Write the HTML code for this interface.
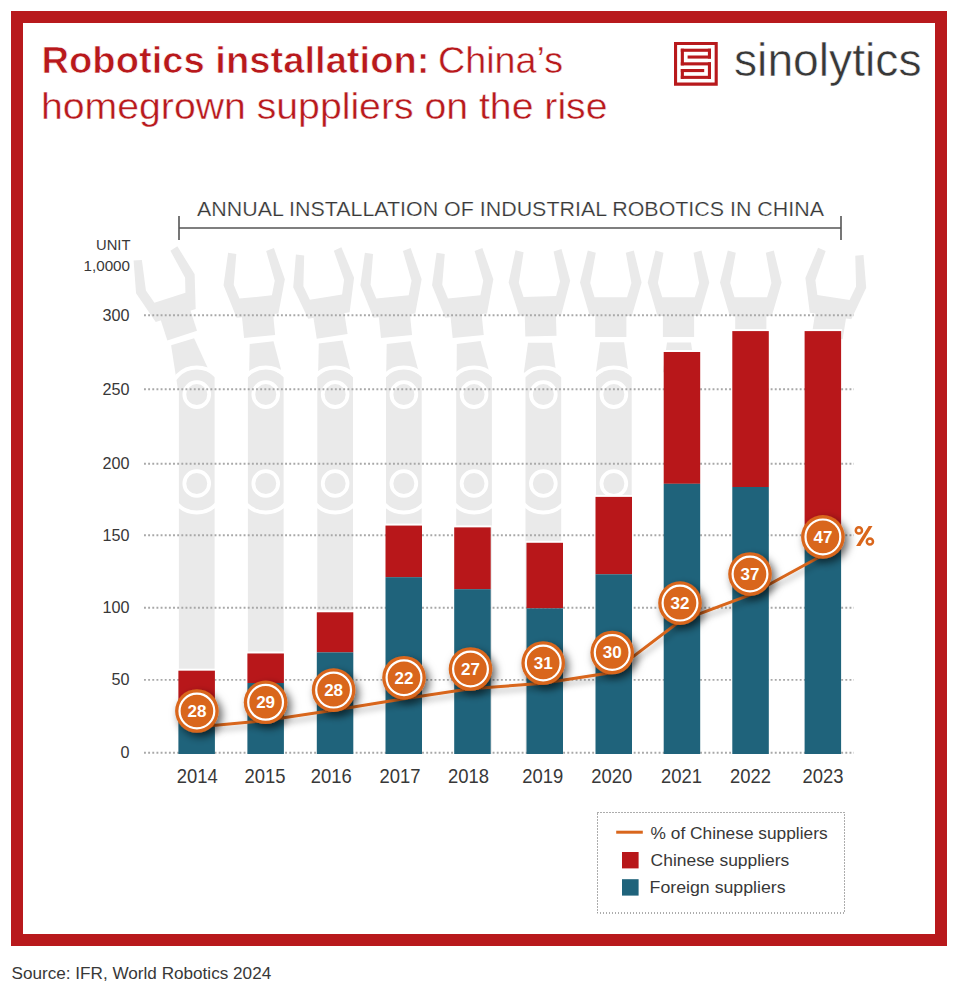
<!DOCTYPE html>
<html><head><meta charset="utf-8"><title>Robotics installation</title>
<style>
html,body{margin:0;padding:0;background:#fff;}
body{width:961px;height:998px;overflow:hidden;}
svg{display:block;font-family:"Liberation Sans",sans-serif;}
</style></head><body>
<svg width="961" height="998" viewBox="0 0 961 998">
<defs><filter id="sh" x="-50%" y="-50%" width="200%" height="200%"><feDropShadow dx="3.5" dy="4" stdDeviation="4" flood-color="#000" flood-opacity="0.6"/></filter><filter id="shl" x="-10%" y="-50%" width="120%" height="200%"><feDropShadow dx="2" dy="4" stdDeviation="3" flood-color="#000" flood-opacity="0.3"/></filter></defs>
<rect x="17" y="17" width="924" height="923" fill="none" stroke="#B8191C" stroke-width="12"/>
<text x="41.5" y="72.5" font-size="37" font-weight="bold" fill="#B8191C" stroke="#fff" stroke-width="0.7" textLength="388" lengthAdjust="spacingAndGlyphs">Robotics installation:</text>
<text x="438" y="72.5" font-size="37" fill="#B8191C" stroke="#fff" stroke-width="0.4" textLength="125" lengthAdjust="spacingAndGlyphs">China’s</text>
<text x="41" y="118.75" font-size="37" fill="#B8191C" stroke="#fff" stroke-width="0.4" textLength="566.5" lengthAdjust="spacingAndGlyphs">homegrown suppliers on the rise</text>
<g fill="#B8191C"><path fill-rule="evenodd" d="M674,42 H717.75 V85.7 H674 Z M677.1,45.1 V82.6 H714.65 V45.1 Z"/><rect x="680.8" y="48.7" width="30.2" height="3.1"/><rect x="707.9" y="48.7" width="3.1" height="9.9"/><rect x="687.6" y="55.5" width="23.4" height="3.1"/><rect x="680.8" y="48.7" width="3.1" height="16.7"/><rect x="680.8" y="62.3" width="30.2" height="3.1"/><rect x="707.9" y="62.3" width="3.1" height="16.6"/><rect x="680.8" y="69" width="23.4" height="3.1"/><rect x="680.8" y="69" width="3.1" height="9.9"/><rect x="680.8" y="75.8" width="30.2" height="3.1"/></g>
<text x="734" y="76.3" font-size="47" fill="#383838" stroke="#fff" stroke-width="0.5" textLength="187.5" lengthAdjust="spacingAndGlyphs">sinolytics</text>
<text x="197" y="215.8" font-size="20" fill="#383838" stroke="#fff" stroke-width="0.2" textLength="627" lengthAdjust="spacingAndGlyphs">ANNUAL INSTALLATION OF INDUSTRIAL ROBOTICS IN CHINA</text>
<path d="M179,228 H841 M179,216 V240 M841,216 V240" stroke="#555" stroke-width="1.6" fill="none"/>
<text x="96" y="250.4" font-size="15.3" fill="#383838" textLength="34.5" lengthAdjust="spacingAndGlyphs">UNIT</text>
<text x="83.5" y="270.8" font-size="15.3" fill="#383838" textLength="46.5" lengthAdjust="spacingAndGlyphs">1,0000</text>
<g fill="#EAEAEA"><g transform="translate(165.35,283.75) rotate(-18)"><polygon points="-23.00,-32.00 -15.00,-29.80 -20.60,0.50 -16.30,14.80 16.30,14.80 20.60,0.50 15.00,-29.80 23.00,-32.00 30.80,0.00 21.00,33.50 -21.00,33.50 -30.80,0.00"/><rect x="-15.6" y="33" width="31.2" height="21.5"/></g><g transform="translate(182.6,341.7) rotate(-16.7)"><polygon points="-12,0 12,0 18.30,45 -18.30,45"/></g><path d="M178.90,754.0 L178.90,377.10 A25,25 0 0 1 214.60,377.10 L214.60,754.0 Z"/><path d="M169.75,394.6 A27,27 0 0 1 223.75,394.6" fill="none" stroke="#fff" stroke-width="4"/><path d="M169.75,485.5 A27,27 0 0 0 223.75,485.5" fill="none" stroke="#fff" stroke-width="4"/><circle cx="196.75" cy="394.6" r="12.4" fill="none" stroke="#fff" stroke-width="3.8"/><circle cx="196.75" cy="483.5" r="12.4" fill="none" stroke="#fff" stroke-width="3.8"/><g transform="translate(254.2,282.25) rotate(-5.7)"><polygon points="-23.00,-32.00 -15.00,-29.80 -20.60,0.50 -16.30,14.80 16.30,14.80 20.60,0.50 15.00,-29.80 23.00,-32.00 30.80,0.00 21.00,33.50 -21.00,33.50 -30.80,0.00"/><rect x="-15.6" y="33" width="31.2" height="21.5"/></g><g transform="translate(261.6,342.6) rotate(-6.9)"><polygon points="-12,0 12,0 16.20,30 -16.20,30"/></g><path d="M247.90,754.0 L247.90,377.10 A25,25 0 0 1 283.60,377.10 L283.60,754.0 Z"/><path d="M238.75,394.6 A27,27 0 0 1 292.75,394.6" fill="none" stroke="#fff" stroke-width="4"/><path d="M238.75,485.5 A27,27 0 0 0 292.75,485.5" fill="none" stroke="#fff" stroke-width="4"/><circle cx="265.75" cy="394.6" r="12.4" fill="none" stroke="#fff" stroke-width="3.8"/><circle cx="265.75" cy="483.5" r="12.4" fill="none" stroke="#fff" stroke-width="3.8"/><g transform="translate(323.65,282.5) rotate(-9)"><polygon points="-23.00,-32.00 -15.00,-29.80 -20.60,0.50 -16.30,14.80 16.30,14.80 20.60,0.50 15.00,-29.80 23.00,-32.00 30.80,0.00 21.00,33.50 -21.00,33.50 -30.80,0.00"/><rect x="-15.6" y="33" width="31.2" height="21.5"/></g><g transform="translate(330.7,342) rotate(-6.7)"><polygon points="-12,0 12,0 16.20,30 -16.20,30"/></g><path d="M317.30,754.0 L317.30,377.10 A25,25 0 0 1 353.00,377.10 L353.00,754.0 Z"/><path d="M308.15,394.6 A27,27 0 0 1 362.15,394.6" fill="none" stroke="#fff" stroke-width="4"/><path d="M308.15,485.5 A27,27 0 0 0 362.15,485.5" fill="none" stroke="#fff" stroke-width="4"/><circle cx="335.15" cy="394.6" r="12.4" fill="none" stroke="#fff" stroke-width="3.8"/><circle cx="335.15" cy="483.5" r="12.4" fill="none" stroke="#fff" stroke-width="3.8"/><g transform="translate(391,282.25) rotate(-5.8)"><polygon points="-23.00,-32.00 -15.00,-29.80 -20.60,0.50 -16.30,14.80 16.30,14.80 20.60,0.50 15.00,-29.80 23.00,-32.00 30.80,0.00 21.00,33.50 -21.00,33.50 -30.80,0.00"/><rect x="-15.6" y="33" width="31.2" height="21.5"/></g><g transform="translate(398.6,342.6) rotate(-7)"><polygon points="-12,0 12,0 16.20,30 -16.20,30"/></g><path d="M386.00,754.0 L386.00,377.10 A25,25 0 0 1 421.70,377.10 L421.70,754.0 Z"/><path d="M376.85,394.6 A27,27 0 0 1 430.85,394.6" fill="none" stroke="#fff" stroke-width="4"/><path d="M376.85,485.5 A27,27 0 0 0 430.85,485.5" fill="none" stroke="#fff" stroke-width="4"/><circle cx="403.85" cy="394.6" r="12.4" fill="none" stroke="#fff" stroke-width="3.8"/><circle cx="403.85" cy="483.5" r="12.4" fill="none" stroke="#fff" stroke-width="3.8"/><g transform="translate(462.7,282.25) rotate(-5.8)"><polygon points="-23.00,-32.00 -15.00,-29.80 -20.60,0.50 -16.30,14.80 16.30,14.80 20.60,0.50 15.00,-29.80 23.00,-32.00 30.80,0.00 21.00,33.50 -21.00,33.50 -30.80,0.00"/><rect x="-15.6" y="33" width="31.2" height="21.5"/></g><g transform="translate(468.7,342.5) rotate(-7.6)"><polygon points="-12,0 12,0 16.20,30 -16.20,30"/></g><path d="M456.20,754.0 L456.20,377.10 A25,25 0 0 1 491.90,377.10 L491.90,754.0 Z"/><path d="M447.05,394.6 A27,27 0 0 1 501.05,394.6" fill="none" stroke="#fff" stroke-width="4"/><path d="M447.05,485.5 A27,27 0 0 0 501.05,485.5" fill="none" stroke="#fff" stroke-width="4"/><circle cx="474.05" cy="394.6" r="12.4" fill="none" stroke="#fff" stroke-width="3.8"/><circle cx="474.05" cy="483.5" r="12.4" fill="none" stroke="#fff" stroke-width="3.8"/><g transform="translate(539.4,281.65) rotate(-1.6)"><polygon points="-23.00,-32.00 -15.00,-29.80 -20.60,0.50 -16.30,14.80 16.30,14.80 20.60,0.50 15.00,-29.80 23.00,-32.00 30.80,0.00 21.00,33.50 -21.00,33.50 -30.80,0.00"/><rect x="-15.6" y="33" width="31.2" height="21.5"/></g><g transform="translate(540,342.7) rotate(0)"><polygon points="-12,0 12,0 16.20,30 -16.20,30"/></g><path d="M525.50,754.0 L525.50,377.10 A25,25 0 0 1 561.20,377.10 L561.20,754.0 Z"/><path d="M516.35,394.6 A27,27 0 0 1 570.35,394.6" fill="none" stroke="#fff" stroke-width="4"/><path d="M516.35,485.5 A27,27 0 0 0 570.35,485.5" fill="none" stroke="#fff" stroke-width="4"/><circle cx="543.35" cy="394.6" r="12.4" fill="none" stroke="#fff" stroke-width="3.8"/><circle cx="543.35" cy="483.5" r="12.4" fill="none" stroke="#fff" stroke-width="3.8"/><g transform="translate(610.8,282.5) rotate(0)"><polygon points="-23.00,-32.00 -15.00,-29.80 -20.60,0.50 -16.30,14.80 16.30,14.80 20.60,0.50 15.00,-29.80 23.00,-32.00 30.80,0.00 21.00,33.50 -21.00,33.50 -30.80,0.00"/><rect x="-15.6" y="33" width="31.2" height="21.5"/></g><g transform="translate(612.1,342.3) rotate(0)"><polygon points="-12,0 12,0 16.20,30 -16.20,30"/></g><path d="M596.00,754.0 L596.00,377.10 A25,25 0 0 1 631.70,377.10 L631.70,754.0 Z"/><path d="M586.85,394.6 A27,27 0 0 1 640.85,394.6" fill="none" stroke="#fff" stroke-width="4"/><path d="M586.85,485.5 A27,27 0 0 0 640.85,485.5" fill="none" stroke="#fff" stroke-width="4"/><circle cx="613.85" cy="394.6" r="12.4" fill="none" stroke="#fff" stroke-width="3.8"/><circle cx="613.85" cy="483.5" r="12.4" fill="none" stroke="#fff" stroke-width="3.8"/><g transform="translate(678.5,282.5) rotate(0)"><polygon points="-23.00,-32.00 -15.00,-29.80 -20.60,0.50 -16.30,14.80 16.30,14.80 20.60,0.50 15.00,-29.80 23.00,-32.00 30.80,0.00 21.00,33.50 -21.00,33.50 -30.80,0.00"/><rect x="-15.6" y="33" width="31.2" height="21.5"/></g><g transform="translate(679,342.5) rotate(0)"><polygon points="-12,0 12,0 16.20,30 -16.20,30"/></g><path d="M664.20,754.0 L664.20,377.10 A25,25 0 0 1 699.90,377.10 L699.90,754.0 Z"/><path d="M655.05,394.6 A27,27 0 0 1 709.05,394.6" fill="none" stroke="#fff" stroke-width="4"/><path d="M655.05,485.5 A27,27 0 0 0 709.05,485.5" fill="none" stroke="#fff" stroke-width="4"/><circle cx="682.05" cy="394.6" r="12.4" fill="none" stroke="#fff" stroke-width="3.8"/><circle cx="682.05" cy="483.5" r="12.4" fill="none" stroke="#fff" stroke-width="3.8"/><g transform="translate(750.8,282.5) rotate(0)"><polygon points="-23.00,-32.00 -15.00,-29.80 -20.60,0.50 -16.30,14.80 16.30,14.80 20.60,0.50 15.00,-29.80 23.00,-32.00 30.80,0.00 21.00,33.50 -21.00,33.50 -30.80,0.00"/><rect x="-15.6" y="33" width="31.2" height="21.5"/></g><path d="M732.80,754.0 L732.80,377.10 A25,25 0 0 1 768.50,377.10 L768.50,754.0 Z"/><path d="M723.65,394.6 A27,27 0 0 1 777.65,394.6" fill="none" stroke="#fff" stroke-width="4"/><path d="M723.65,485.5 A27,27 0 0 0 777.65,485.5" fill="none" stroke="#fff" stroke-width="4"/><circle cx="750.65" cy="394.6" r="12.4" fill="none" stroke="#fff" stroke-width="3.8"/><circle cx="750.65" cy="483.5" r="12.4" fill="none" stroke="#fff" stroke-width="3.8"/><g transform="translate(835.8,282.9) rotate(9)"><polygon points="-23.00,-32.00 -15.00,-29.80 -20.60,0.50 -16.30,14.80 16.30,14.80 20.60,0.50 15.00,-29.80 23.00,-32.00 30.80,0.00 21.00,33.50 -21.00,33.50 -30.80,0.00"/><rect x="-15.6" y="33" width="31.2" height="21.5"/></g><path d="M805.10,754.0 L805.10,377.10 A25,25 0 0 1 840.80,377.10 L840.80,754.0 Z"/><path d="M795.95,394.6 A27,27 0 0 1 849.95,394.6" fill="none" stroke="#fff" stroke-width="4"/><path d="M795.95,485.5 A27,27 0 0 0 849.95,485.5" fill="none" stroke="#fff" stroke-width="4"/><circle cx="822.95" cy="394.6" r="12.4" fill="none" stroke="#fff" stroke-width="3.8"/><circle cx="822.95" cy="483.5" r="12.4" fill="none" stroke="#fff" stroke-width="3.8"/></g>
<line x1="144" y1="752.8" x2="854" y2="752.8" stroke="#A8A8A8" stroke-width="1.9" stroke-dasharray="1.9 2.25"/>
<text x="129.5" y="758.1" font-size="16.2" fill="#383838" text-anchor="end">0</text>
<line x1="144" y1="679.9" x2="854" y2="679.9" stroke="#A8A8A8" stroke-width="1.9" stroke-dasharray="1.9 2.25"/>
<text x="129.5" y="685.2" font-size="16.2" fill="#383838" text-anchor="end">50</text>
<line x1="144" y1="607.8" x2="854" y2="607.8" stroke="#A8A8A8" stroke-width="1.9" stroke-dasharray="1.9 2.25"/>
<text x="129.5" y="613.1" font-size="16.2" fill="#383838" text-anchor="end">100</text>
<line x1="144" y1="535.2" x2="854" y2="535.2" stroke="#A8A8A8" stroke-width="1.9" stroke-dasharray="1.9 2.25"/>
<text x="129.5" y="540.5" font-size="16.2" fill="#383838" text-anchor="end">150</text>
<line x1="144" y1="463.8" x2="854" y2="463.8" stroke="#A8A8A8" stroke-width="1.9" stroke-dasharray="1.9 2.25"/>
<text x="129.5" y="469.1" font-size="16.2" fill="#383838" text-anchor="end">200</text>
<line x1="144" y1="389.3" x2="854" y2="389.3" stroke="#A8A8A8" stroke-width="1.9" stroke-dasharray="1.9 2.25"/>
<text x="129.5" y="394.6" font-size="16.2" fill="#383838" text-anchor="end">250</text>
<line x1="144" y1="315.3" x2="854" y2="315.3" stroke="#A8A8A8" stroke-width="1.9" stroke-dasharray="1.9 2.25"/>
<text x="129.5" y="320.6" font-size="16.2" fill="#383838" text-anchor="end">300</text>
<rect x="177.4" y="668.7" width="38.5" height="2" fill="#fff"/>
<rect x="178.4" y="670.7" width="36.5" height="41.299999999999955" fill="#B8171A"/>
<rect x="178.4" y="712" width="36.5" height="42.0" fill="#1F637B"/>
<text x="176.80" y="782.8" font-size="19.8" fill="#383838" textLength="41" lengthAdjust="spacingAndGlyphs">2014</text>
<rect x="246.4" y="651.5" width="38.5" height="2" fill="#fff"/>
<rect x="247.4" y="653.5" width="36.5" height="29.5" fill="#B8171A"/>
<rect x="247.4" y="683" width="36.5" height="71.0" fill="#1F637B"/>
<text x="244.60" y="782.8" font-size="19.8" fill="#383838" textLength="41" lengthAdjust="spacingAndGlyphs">2015</text>
<rect x="315.8" y="610.3" width="38.5" height="2" fill="#fff"/>
<rect x="316.8" y="612.3" width="36.5" height="40.10000000000002" fill="#B8171A"/>
<rect x="316.8" y="652.4" width="36.5" height="101.60000000000002" fill="#1F637B"/>
<text x="310.80" y="782.8" font-size="19.8" fill="#383838" textLength="41" lengthAdjust="spacingAndGlyphs">2016</text>
<rect x="384.5" y="523.6" width="38.5" height="2" fill="#fff"/>
<rect x="385.5" y="525.6" width="36.5" height="51.60000000000002" fill="#B8171A"/>
<rect x="385.5" y="577.2" width="36.5" height="176.79999999999995" fill="#1F637B"/>
<text x="379.40" y="782.8" font-size="19.8" fill="#383838" textLength="41" lengthAdjust="spacingAndGlyphs">2017</text>
<rect x="453.2" y="525.4" width="38.5" height="2" fill="#fff"/>
<rect x="454.2" y="527.4" width="36.5" height="61.80000000000007" fill="#B8171A"/>
<rect x="454.2" y="589.2" width="36.5" height="164.79999999999995" fill="#1F637B"/>
<text x="447.90" y="782.8" font-size="19.8" fill="#383838" textLength="41" lengthAdjust="spacingAndGlyphs">2018</text>
<rect x="525.5" y="540.8" width="38.5" height="2" fill="#fff"/>
<rect x="526.5" y="542.8" width="36.5" height="65.60000000000002" fill="#B8171A"/>
<rect x="526.5" y="608.4" width="36.5" height="145.60000000000002" fill="#1F637B"/>
<text x="522.20" y="782.8" font-size="19.8" fill="#383838" textLength="41" lengthAdjust="spacingAndGlyphs">2019</text>
<rect x="594.5" y="494.9" width="38.5" height="2" fill="#fff"/>
<rect x="595.5" y="496.9" width="36.5" height="77.39999999999998" fill="#B8171A"/>
<rect x="595.5" y="574.3" width="36.5" height="179.70000000000005" fill="#1F637B"/>
<text x="591.30" y="782.8" font-size="19.8" fill="#383838" textLength="41" lengthAdjust="spacingAndGlyphs">2020</text>
<rect x="662.7" y="350.0" width="38.5" height="2" fill="#fff"/>
<rect x="663.7" y="352.0" width="36.5" height="131.8" fill="#B8171A"/>
<rect x="663.7" y="483.8" width="36.5" height="270.2" fill="#1F637B"/>
<text x="661.00" y="782.8" font-size="19.8" fill="#383838" textLength="41" lengthAdjust="spacingAndGlyphs">2021</text>
<rect x="731.3" y="329.1" width="38.5" height="2" fill="#fff"/>
<rect x="732.3" y="331.1" width="36.5" height="155.89999999999998" fill="#B8171A"/>
<rect x="732.3" y="487.0" width="36.5" height="267.0" fill="#1F637B"/>
<text x="729.90" y="782.8" font-size="19.8" fill="#383838" textLength="41" lengthAdjust="spacingAndGlyphs">2022</text>
<rect x="803.6" y="329.1" width="38.5" height="2" fill="#fff"/>
<rect x="804.6" y="331.1" width="36.5" height="197.89999999999998" fill="#B8171A"/>
<rect x="804.6" y="529.0" width="36.5" height="225.0" fill="#1F637B"/>
<text x="802.50" y="782.8" font-size="19.8" fill="#383838" textLength="41" lengthAdjust="spacingAndGlyphs">2023</text>
<polyline points="197.00,727.00 265.60,720.60 333.40,710.30 404.00,698.70 470.00,688.70 543.00,683.30 612.00,672.60 680.00,621.00 750.00,595.00 823.00,555.00" fill="none" stroke="#D9661C" stroke-width="3" filter="url(#shl)"/>
<g filter="url(#sh)"><circle cx="196.9" cy="711" r="21.8" fill="#D9661C"/></g>
<circle cx="196.9" cy="711" r="17.4" fill="none" stroke="#fff" stroke-width="2.2"/>
<text x="196.9" y="716.8" font-size="17" font-weight="bold" fill="#fff" text-anchor="middle">28</text>
<g filter="url(#sh)"><circle cx="265.6" cy="702.3" r="21.8" fill="#D9661C"/></g>
<circle cx="265.6" cy="702.3" r="17.4" fill="none" stroke="#fff" stroke-width="2.2"/>
<text x="265.6" y="708.1" font-size="17" font-weight="bold" fill="#fff" text-anchor="middle">29</text>
<g filter="url(#sh)"><circle cx="333.6" cy="690.1" r="21.8" fill="#D9661C"/></g>
<circle cx="333.6" cy="690.1" r="17.4" fill="none" stroke="#fff" stroke-width="2.2"/>
<text x="333.6" y="695.9" font-size="17" font-weight="bold" fill="#fff" text-anchor="middle">28</text>
<g filter="url(#sh)"><circle cx="404" cy="677.7" r="21.8" fill="#D9661C"/></g>
<circle cx="404" cy="677.7" r="17.4" fill="none" stroke="#fff" stroke-width="2.2"/>
<text x="404" y="683.5" font-size="17" font-weight="bold" fill="#fff" text-anchor="middle">22</text>
<g filter="url(#sh)"><circle cx="470.5" cy="669" r="21.8" fill="#D9661C"/></g>
<circle cx="470.5" cy="669" r="17.4" fill="none" stroke="#fff" stroke-width="2.2"/>
<text x="470.5" y="674.8" font-size="17" font-weight="bold" fill="#fff" text-anchor="middle">27</text>
<g filter="url(#sh)"><circle cx="543.2" cy="663" r="21.8" fill="#D9661C"/></g>
<circle cx="543.2" cy="663" r="17.4" fill="none" stroke="#fff" stroke-width="2.2"/>
<text x="543.2" y="668.8" font-size="17" font-weight="bold" fill="#fff" text-anchor="middle">31</text>
<g filter="url(#sh)"><circle cx="612.2" cy="652.5" r="21.8" fill="#D9661C"/></g>
<circle cx="612.2" cy="652.5" r="17.4" fill="none" stroke="#fff" stroke-width="2.2"/>
<text x="612.2" y="658.3" font-size="17" font-weight="bold" fill="#fff" text-anchor="middle">30</text>
<g filter="url(#sh)"><circle cx="680" cy="603.1" r="21.8" fill="#D9661C"/></g>
<circle cx="680" cy="603.1" r="17.4" fill="none" stroke="#fff" stroke-width="2.2"/>
<text x="680" y="608.9" font-size="17" font-weight="bold" fill="#fff" text-anchor="middle">32</text>
<g filter="url(#sh)"><circle cx="750" cy="574" r="21.8" fill="#D9661C"/></g>
<circle cx="750" cy="574" r="17.4" fill="none" stroke="#fff" stroke-width="2.2"/>
<text x="750" y="579.8" font-size="17" font-weight="bold" fill="#fff" text-anchor="middle">37</text>
<g filter="url(#sh)"><circle cx="822.9" cy="536.9" r="21.8" fill="#D9661C"/></g>
<circle cx="822.9" cy="536.9" r="17.4" fill="none" stroke="#fff" stroke-width="2.2"/>
<text x="822.9" y="542.7" font-size="17" font-weight="bold" fill="#fff" text-anchor="middle">47</text>
<g fill="none" stroke="#D9661C" stroke-width="2.5"><circle cx="858.9" cy="530.4" r="3.1"/><circle cx="869.9" cy="541.5" r="3.1"/></g><polygon points="868.7,526.1 872.5,526.1 860.3,545.9 856.1,545.9" fill="#D9661C"/>
<rect x="597.5" y="812.5" width="247" height="100.5" fill="none" stroke="#5a5a5a" stroke-width="1" stroke-dasharray="1 2"/>
<line x1="616.2" y1="832.2" x2="642.8" y2="832.2" stroke="#D9661C" stroke-width="3"/>
<rect x="622" y="852" width="16.6" height="16.4" fill="#B8171A"/>
<rect x="622" y="879.2" width="16.6" height="16.4" fill="#1F637B"/>
<text x="650.6" y="838.7" font-size="16.5" fill="#383838" textLength="177" lengthAdjust="spacingAndGlyphs">% of Chinese suppliers</text>
<text x="650.6" y="865.8" font-size="16.5" fill="#383838" textLength="138.6" lengthAdjust="spacingAndGlyphs">Chinese suppliers</text>
<text x="649.6" y="893" font-size="16.5" fill="#383838" textLength="136" lengthAdjust="spacingAndGlyphs">Foreign suppliers</text>
<text x="11.5" y="979.3" font-size="17.4" fill="#383838" textLength="259.7" lengthAdjust="spacingAndGlyphs">Source: IFR, World Robotics 2024</text>
</svg>
</body></html>
